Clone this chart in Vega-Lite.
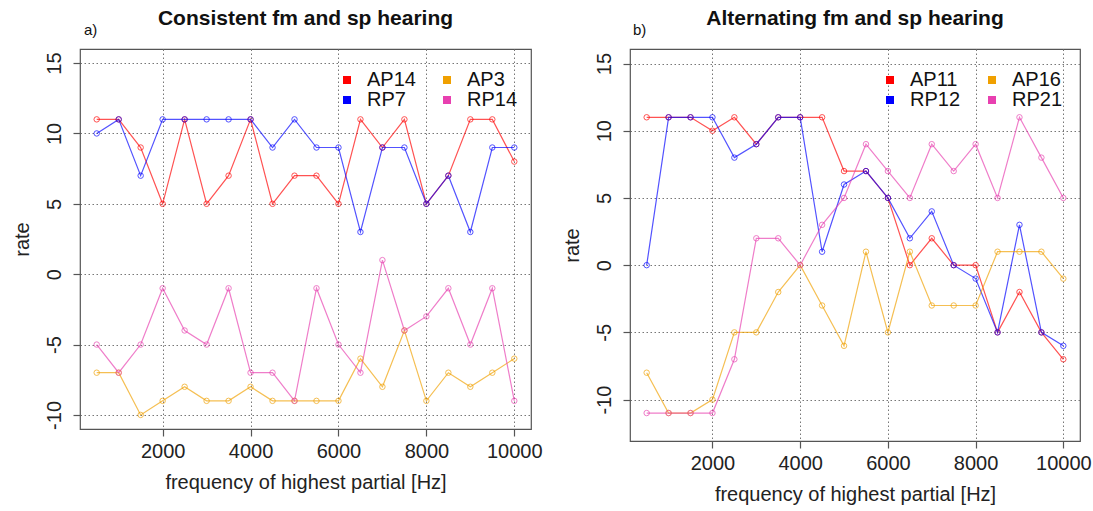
{
  "$schema": "https://vega.github.io/schema/vega-lite/v6.json",
  "background": "white",
  "padding": {"left": 11, "top": 7, "right": 2, "bottom": 2},
  "config": {
    "font": "Liberation Sans",
    "view": {"stroke": "#555", "strokeWidth": 1.2},
    "axis": {
      "grid": true, "gridColor": "#777", "gridDash": [1.5, 2.5], "gridWidth": 1,
      "domain": false, "tickColor": "#555", "tickSize": 7, "tickWidth": 1.2,
      "labelFontSize": 20, "labelColor": "#222", "labelFont": "Liberation Sans",
      "titleFontSize": 20, "titleFontWeight": "normal", "titleColor": "#222", "titleFont": "Liberation Sans"
    },
    "title": {"fontSize": 21, "fontWeight": "bold", "font": "Liberation Sans", "color": "#111"}
  },
  "datasets": {
    "left": [
      {"x":500,"v":11,"s":"AP14"},{"x":1000,"v":11,"s":"AP14"},{"x":1500,"v":9,"s":"AP14"},{"x":2000,"v":5,"s":"AP14"},{"x":2500,"v":11,"s":"AP14"},{"x":3000,"v":5,"s":"AP14"},{"x":3500,"v":7,"s":"AP14"},{"x":4000,"v":11,"s":"AP14"},{"x":4500,"v":5,"s":"AP14"},{"x":5000,"v":7,"s":"AP14"},{"x":5500,"v":7,"s":"AP14"},{"x":6000,"v":5,"s":"AP14"},{"x":6500,"v":11,"s":"AP14"},{"x":7000,"v":9,"s":"AP14"},{"x":7500,"v":11,"s":"AP14"},{"x":8000,"v":5,"s":"AP14"},{"x":8500,"v":7,"s":"AP14"},{"x":9000,"v":11,"s":"AP14"},{"x":9500,"v":11,"s":"AP14"},{"x":10000,"v":8,"s":"AP14"},
      {"x":500,"v":10,"s":"RP7"},{"x":1000,"v":11,"s":"RP7"},{"x":1500,"v":7,"s":"RP7"},{"x":2000,"v":11,"s":"RP7"},{"x":2500,"v":11,"s":"RP7"},{"x":3000,"v":11,"s":"RP7"},{"x":3500,"v":11,"s":"RP7"},{"x":4000,"v":11,"s":"RP7"},{"x":4500,"v":9,"s":"RP7"},{"x":5000,"v":11,"s":"RP7"},{"x":5500,"v":9,"s":"RP7"},{"x":6000,"v":9,"s":"RP7"},{"x":6500,"v":3,"s":"RP7"},{"x":7000,"v":9,"s":"RP7"},{"x":7500,"v":9,"s":"RP7"},{"x":8000,"v":5,"s":"RP7"},{"x":8500,"v":7,"s":"RP7"},{"x":9000,"v":3,"s":"RP7"},{"x":9500,"v":9,"s":"RP7"},{"x":10000,"v":9,"s":"RP7"},
      {"x":500,"v":-7,"s":"AP3"},{"x":1000,"v":-7,"s":"AP3"},{"x":1500,"v":-10,"s":"AP3"},{"x":2000,"v":-9,"s":"AP3"},{"x":2500,"v":-8,"s":"AP3"},{"x":3000,"v":-9,"s":"AP3"},{"x":3500,"v":-9,"s":"AP3"},{"x":4000,"v":-8,"s":"AP3"},{"x":4500,"v":-9,"s":"AP3"},{"x":5000,"v":-9,"s":"AP3"},{"x":5500,"v":-9,"s":"AP3"},{"x":6000,"v":-9,"s":"AP3"},{"x":6500,"v":-6,"s":"AP3"},{"x":7000,"v":-8,"s":"AP3"},{"x":7500,"v":-4,"s":"AP3"},{"x":8000,"v":-9,"s":"AP3"},{"x":8500,"v":-7,"s":"AP3"},{"x":9000,"v":-8,"s":"AP3"},{"x":9500,"v":-7,"s":"AP3"},{"x":10000,"v":-6,"s":"AP3"},
      {"x":500,"v":-5,"s":"RP14"},{"x":1000,"v":-7,"s":"RP14"},{"x":1500,"v":-5,"s":"RP14"},{"x":2000,"v":-1,"s":"RP14"},{"x":2500,"v":-4,"s":"RP14"},{"x":3000,"v":-5,"s":"RP14"},{"x":3500,"v":-1,"s":"RP14"},{"x":4000,"v":-7,"s":"RP14"},{"x":4500,"v":-7,"s":"RP14"},{"x":5000,"v":-9,"s":"RP14"},{"x":5500,"v":-1,"s":"RP14"},{"x":6000,"v":-5,"s":"RP14"},{"x":6500,"v":-7,"s":"RP14"},{"x":7000,"v":1,"s":"RP14"},{"x":7500,"v":-4,"s":"RP14"},{"x":8000,"v":-3,"s":"RP14"},{"x":8500,"v":-1,"s":"RP14"},{"x":9000,"v":-5,"s":"RP14"},{"x":9500,"v":-1,"s":"RP14"},{"x":10000,"v":-9,"s":"RP14"}
    ],
    "right": [
      {"x":500,"v":11,"s":"AP11"},{"x":1000,"v":11,"s":"AP11"},{"x":1500,"v":11,"s":"AP11"},{"x":2000,"v":10,"s":"AP11"},{"x":2500,"v":11,"s":"AP11"},{"x":3000,"v":9,"s":"AP11"},{"x":3500,"v":11,"s":"AP11"},{"x":4000,"v":11,"s":"AP11"},{"x":4500,"v":11,"s":"AP11"},{"x":5000,"v":7,"s":"AP11"},{"x":5500,"v":7,"s":"AP11"},{"x":6000,"v":5,"s":"AP11"},{"x":6500,"v":0,"s":"AP11"},{"x":7000,"v":2,"s":"AP11"},{"x":7500,"v":0,"s":"AP11"},{"x":8000,"v":0,"s":"AP11"},{"x":8500,"v":-5,"s":"AP11"},{"x":9000,"v":-2,"s":"AP11"},{"x":9500,"v":-5,"s":"AP11"},{"x":10000,"v":-7,"s":"AP11"},
      {"x":500,"v":0,"s":"RP12"},{"x":1000,"v":11,"s":"RP12"},{"x":1500,"v":11,"s":"RP12"},{"x":2000,"v":11,"s":"RP12"},{"x":2500,"v":8,"s":"RP12"},{"x":3000,"v":9,"s":"RP12"},{"x":3500,"v":11,"s":"RP12"},{"x":4000,"v":11,"s":"RP12"},{"x":4500,"v":1,"s":"RP12"},{"x":5000,"v":6,"s":"RP12"},{"x":5500,"v":7,"s":"RP12"},{"x":6000,"v":5,"s":"RP12"},{"x":6500,"v":2,"s":"RP12"},{"x":7000,"v":4,"s":"RP12"},{"x":7500,"v":0,"s":"RP12"},{"x":8000,"v":-1,"s":"RP12"},{"x":8500,"v":-5,"s":"RP12"},{"x":9000,"v":3,"s":"RP12"},{"x":9500,"v":-5,"s":"RP12"},{"x":10000,"v":-6,"s":"RP12"},
      {"x":500,"v":-8,"s":"AP16"},{"x":1000,"v":-11,"s":"AP16"},{"x":1500,"v":-11,"s":"AP16"},{"x":2000,"v":-10,"s":"AP16"},{"x":2500,"v":-5,"s":"AP16"},{"x":3000,"v":-5,"s":"AP16"},{"x":3500,"v":-2,"s":"AP16"},{"x":4000,"v":0,"s":"AP16"},{"x":4500,"v":-3,"s":"AP16"},{"x":5000,"v":-6,"s":"AP16"},{"x":5500,"v":1,"s":"AP16"},{"x":6000,"v":-5,"s":"AP16"},{"x":6500,"v":1,"s":"AP16"},{"x":7000,"v":-3,"s":"AP16"},{"x":7500,"v":-3,"s":"AP16"},{"x":8000,"v":-3,"s":"AP16"},{"x":8500,"v":1,"s":"AP16"},{"x":9000,"v":1,"s":"AP16"},{"x":9500,"v":1,"s":"AP16"},{"x":10000,"v":-1,"s":"AP16"},
      {"x":500,"v":-11,"s":"RP21"},{"x":1000,"v":-11,"s":"RP21"},{"x":1500,"v":-11,"s":"RP21"},{"x":2000,"v":-11,"s":"RP21"},{"x":2500,"v":-7,"s":"RP21"},{"x":3000,"v":2,"s":"RP21"},{"x":3500,"v":2,"s":"RP21"},{"x":4000,"v":0,"s":"RP21"},{"x":4500,"v":3,"s":"RP21"},{"x":5000,"v":5,"s":"RP21"},{"x":5500,"v":9,"s":"RP21"},{"x":6000,"v":7,"s":"RP21"},{"x":6500,"v":5,"s":"RP21"},{"x":7000,"v":9,"s":"RP21"},{"x":7500,"v":7,"s":"RP21"},{"x":8000,"v":9,"s":"RP21"},{"x":8500,"v":5,"s":"RP21"},{"x":9000,"v":11,"s":"RP21"},{"x":9500,"v":8,"s":"RP21"},{"x":10000,"v":5,"s":"RP21"}
    ]
  },
  "spacing": 18,
  "resolve": {"scale": {"color": "independent"}, "legend": {"color": "independent"}},
  "hconcat": [
    {
      "width": 451, "height": 380,
      "title": {"text": "Consistent fm and sp hearing", "offset": -6},
      "layer": [
        {
          "mark": {"type": "rule", "color": "#222", "strokeDash": [1.5, 2.5], "strokeWidth": 1},
          "encoding": {"y": {"datum": -5, "type": "quantitative"}}
        },
        {
          "data": {"name": "left"},
          "encoding": {
            "x": {"field": "x", "type": "quantitative", "scale": {"domain": [120, 10380], "nice": false, "zero": false},
                  "axis": {"values": [2000, 4000, 6000, 8000, 10000], "labelExpr": "'' + datum.value", "title": "frequency of highest partial [Hz]", "labelPadding": 5, "titlePadding": 11}},
            "y": {"field": "v", "type": "quantitative", "scale": {"domain": [-11, 16], "nice": false, "zero": false},
                  "axis": {"values": [-10, -5, 0, 5, 10, 15], "labelExpr": "'' + datum.value", "title": "rate", "labelAngle": -90, "labelAlign": "center", "labelBaseline": "bottom", "labelPadding": 9, "titlePadding": 12}},
            "color": {"field": "s", "type": "nominal",
                      "scale": {"domain": ["AP14", "AP3", "RP7", "RP14"], "range": ["#ff0000", "#f0a000", "#0000ff", "#e840b0"]},
                      "legend": {"orient": "none", "legendX": 257, "legendY": 21, "columns": 2, "direction": "horizontal", "title": null,
                                 "symbolType": "square", "symbolSize": 16, "symbolStrokeWidth": 4, "symbolOpacity": 1,
                                 "labelFontSize": 20, "labelColor": "#111", "labelOffset": 10, "columnPadding": 21, "rowPadding": 0}}
          },
          "layer": [
            {"mark": {"type": "line", "strokeWidth": 1.2, "opacity": 0.68}},
            {"mark": {"type": "point", "filled": false, "size": 30, "strokeWidth": 1, "opacity": 0.68}}
          ]
        },
        {
          "data": {"values": [{"x": 211, "v": 17.0, "t": "a)"}]},
          "mark": {"type": "text", "fontSize": 15, "align": "left", "baseline": "alphabetic", "color": "#111"},
          "encoding": {
            "x": {"field": "x", "type": "quantitative"},
            "y": {"field": "v", "type": "quantitative"},
            "text": {"field": "t"}
          }
        }
      ]
    },
    {
      "width": 450, "height": 392,
      "title": {"text": "Alternating fm and sp hearing", "offset": -6},
      "layer": [
        {
          "data": {"name": "right"},
          "encoding": {
            "x": {"field": "x", "type": "quantitative", "scale": {"domain": [120, 10380], "nice": false, "zero": false},
                  "axis": {"values": [2000, 4000, 6000, 8000, 10000], "labelExpr": "'' + datum.value", "title": "frequency of highest partial [Hz]", "labelPadding": 5, "titlePadding": 11}},
            "y": {"field": "v", "type": "quantitative", "scale": {"domain": [-13.08, 16.08], "nice": false, "zero": false},
                  "axis": {"values": [-10, -5, 0, 5, 10, 15], "labelExpr": "'' + datum.value", "title": "rate", "labelAngle": -90, "labelAlign": "center", "labelBaseline": "bottom", "labelPadding": 9, "titlePadding": 12}},
            "color": {"field": "s", "type": "nominal",
                      "scale": {"domain": ["AP11", "AP16", "RP12", "RP21"], "range": ["#ff0000", "#f0a000", "#0000ff", "#e840b0"]},
                      "legend": {"orient": "none", "legendX": 250, "legendY": 21, "columns": 2, "direction": "horizontal", "title": null,
                                 "symbolType": "square", "symbolSize": 16, "symbolStrokeWidth": 4, "symbolOpacity": 1,
                                 "labelFontSize": 20, "labelColor": "#111", "labelOffset": 10, "columnPadding": 21, "rowPadding": 0}}
          },
          "layer": [
            {"mark": {"type": "line", "strokeWidth": 1.2, "opacity": 0.68}},
            {"mark": {"type": "point", "filled": false, "size": 30, "strokeWidth": 1, "opacity": 0.68}}
          ]
        },
        {
          "data": {"values": [{"x": 188, "v": 17.12, "t": "b)"}]},
          "mark": {"type": "text", "fontSize": 15, "align": "left", "baseline": "alphabetic", "color": "#111"},
          "encoding": {
            "x": {"field": "x", "type": "quantitative"},
            "y": {"field": "v", "type": "quantitative"},
            "text": {"field": "t"}
          }
        }
      ]
    }
  ]
}
